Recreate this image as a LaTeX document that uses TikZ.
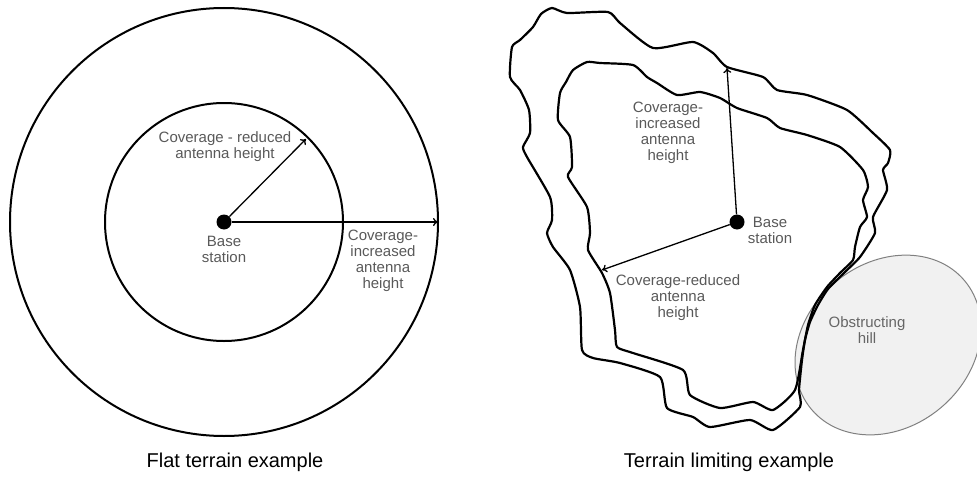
\documentclass[tikz,border=0pt]{standalone}
\usepackage{fontspec}
\setmainfont{Liberation Sans}
\usetikzlibrary{arrows.meta}

\begin{document}
\begin{tikzpicture}[x=1pt, y=-1pt,
	station/.style={circle, fill=black, inner sep=0pt, minimum size=15pt},
	zone/.style={line width=2pt},
	terrain/.style={line width=2.2pt, line join=round},
	reach/.style={line width=1.3pt, -{To[length=5pt, width=8pt]}},
	lbl/.style={text=black!65, align=center, inner sep=0pt, font=\fontsize{15}{16}\selectfont},
	caption/.style={inner sep=0pt, font=\fontsize{20}{24}\selectfont}]
	\useasboundingbox (0,0) rectangle (977,487);

	% flat terrain
	\node[station] (bsA) at (224,222) {};
	\draw[zone] (bsA.center) circle (119);
	\draw[zone] (bsA.center) circle (214);
	\coordinate (redA) at (306,139);
	\coordinate (incA) at (438,222);
	\draw[reach] (bsA) -- (redA);
	\draw[reach] (bsA) -- (incA);
	\node[lbl] (redAtxt) at (225,147) {Coverage - reduced\\antenna height};
	\node[lbl] (bsAtxt) at (224,249) {Base\\station};
	\node[lbl] (incAtxt) at (383,261) {Coverage-\\increased\\antenna\\height};

	% terrain limiting
	\draw[gray, line width=1pt, fill=gray!11, rotate around={40:(888,345)}] (888,345) ellipse (100 and 82);
	\node[lbl, text=black!60] (hilltxt) at (867,330) {Obstructing\\hill};

	\draw[terrain] plot[smooth cycle, tension=0.35] coordinates {
		(541,14) (552,8) (567,13) (608,12) (620,23) (653,48) (693,42) (713,53)
		(727,67) (763,77) (777,90) (807,95) (847,110) (873,133) (890,150) (888,163)
		(883,170) (887,190) (873,217) (875,233) (860,257) (845,272) (828,289) (818,305)
		(810,322) (805,340) (802,360) (799,390) (800,407) (773,430) (750,420) (710,427)
		(693,417) (667,408) (660,377) (620,363) (593,358) (582,350) (580,307) (570,270)
		(553,247) (547,233) (552,220) (550,197) (527,157) (523,147) (530,133) (529,110)
		(520,90) (510,77) (512,47) (520,40) (533,27)};
	\draw[terrain] plot[smooth cycle, tension=0.35] coordinates {
		(587,62) (600,63) (633,65) (647,77) (657,83) (677,95) (700,92) (720,98)
		(737,108) (767,118) (780,128) (807,135) (840,147) (863,170) (868,187) (863,200)
		(867,217) (860,227) (855,247) (853,260) (840,273) (827,287) (815,305) (808,325)
		(803,350) (795,390) (773,410) (753,402) (720,408) (690,395) (683,370) (633,353)
		(617,347) (615,330) (610,293) (602,273) (588,250) (590,233) (587,207) (568,177)
		(572,167) (570,137) (558,120) (560,93) (566,82) (573,70)};

	\node[station] (bsB) at (737,222) {};
	\coordinate (incB) at (727,68);
	\coordinate (redB) at (602,270);
	\draw[reach] (bsB) -- (incB);
	\draw[reach] (bsB) -- (redB);
	\node[lbl] (incBtxt) at (668,133) {Coverage-\\increased\\antenna\\height};
	\node[lbl] (bsBtxt) at (770,230) {Base\\station};
	\node[lbl] (redBtxt) at (678,298) {Coverage-reduced\\antenna\\height};

	% captions
	\node[caption] (capA) at (235,462) {Flat terrain example};
	\node[caption] (capB) at (729,462) {Terrain limiting example};
\end{tikzpicture}
\end{document}
